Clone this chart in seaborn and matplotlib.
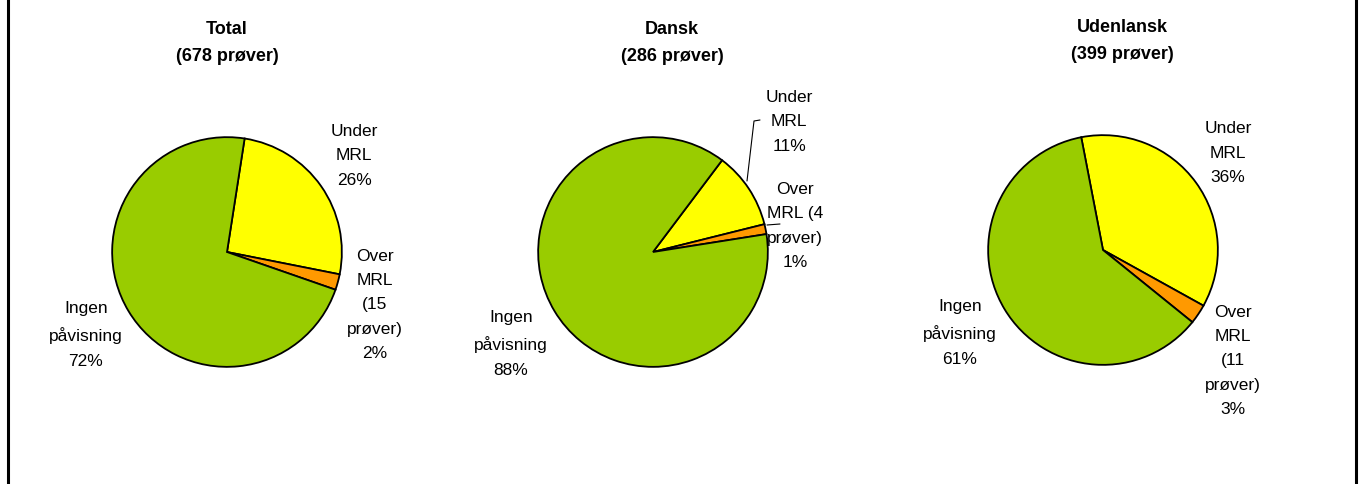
import matplotlib
matplotlib.use("Agg")
import matplotlib.pyplot as plt
import seaborn as sns
from matplotlib.lines import Line2D

# ---------------- data ----------------
groups = ["Total", "Dansk", "Udenlansk"]
n_samples = [678, 286, 399]
categories = ["Under MRL", "Over MRL", "Ingen påvisning"]
under_mrl = [174, 31, 144]
over_mrl = [15, 4, 11]
ingen = [489, 251, 244]
over_label_text = ["Over\nMRL\n(15\nprøver)", "Over\nMRL (4\nprøver)", "Over\nMRL\n(11\nprøver)"]
under_label_text = "Under\nMRL"
ingen_label_text = "Ingen\npåvisning"
colors = ["#FFFF00", "#FF9900", "#99CC00"]

# ---------------- layout (pixels) ----------------
W, H = 1361, 485
pie_centers = [(227, 253), (653, 253), (1103, 251)]
pie_radius = 116
title_pos = [(227, 43), (672, 43), (1122, 41)]
under_pos = [(354, 156), (789, 122), (1228, 153)]
over_pos = [(375, 305), (795, 226), (1233, 361)]
ingen_pos = [(86, 335), (511, 344), (960, 333)]

sns.set_theme(style="white")
plt.rcParams["font.family"] = ["Liberation Sans", "DejaVu Sans"]

fig = plt.figure(figsize=(W / 100, H / 100), dpi=100)
fig.patch.set_facecolor("white")


def fx(x):
    return x / W


def fy(y):
    return 1 - y / H


label_fs = 12.5
label_ls = 1.78
for i, g in enumerate(groups):
    cx, cy = pie_centers[i]
    r = pie_radius
    ax = fig.add_axes([fx(cx - r), fy(cy + r), 2 * r / W, 2 * r / H])
    vals = [under_mrl[i], over_mrl[i], ingen[i]]
    tot = sum(vals)
    p_green = ingen[i] / tot
    start_cw = 239 + 180 * p_green
    ax.pie(vals, colors=colors, startangle=90 - start_cw, counterclock=False,
           radius=1, wedgeprops=dict(edgecolor="black", linewidth=1.3))
    ax.set_xlim(-1.01, 1.01)
    ax.set_ylim(-1.01, 1.01)
    ax.axis("off")

    pcts = [round(100 * v / tot) for v in vals]
    tx, ty = title_pos[i]
    fig.text(fx(tx), fy(ty), f"{g}\n({n_samples[i]} prøver)", ha="center", va="center",
             fontsize=13, fontweight="bold", linespacing=1.7, color="black")
    ux, uy = under_pos[i]
    fig.text(fx(ux), fy(uy), f"{under_label_text}\n{pcts[0]}%", ha="center", va="center",
             fontsize=label_fs, linespacing=label_ls, color="black")
    ox, oy = over_pos[i]
    fig.text(fx(ox), fy(oy), f"{over_label_text[i]}\n{pcts[1]}%", ha="center", va="center",
             fontsize=label_fs, linespacing=label_ls, color="black")
    ix, iy = ingen_pos[i]
    fig.text(fx(ix), fy(iy), f"{ingen_label_text}\n{pcts[2]}%", ha="center", va="center",
             fontsize=label_fs, linespacing=label_ls, color="black")

# leader lines for Dansk
fig.add_artist(Line2D([fx(747), fx(754), fx(760)], [fy(182), fy(122), fy(121)],
                      color="black", lw=0.8))
fig.add_artist(Line2D([fx(767), fx(780)], [fy(226), fy(225)], color="black", lw=0.8))

# frame
fig.add_artist(Line2D([fx(7.5), fx(7.5)], [0, 1], color="black", lw=2.2))
fig.add_artist(Line2D([fx(1356), fx(1356)], [0, 1], color="black", lw=2.2))

fig.savefig("out.png", dpi=100, facecolor="white")
